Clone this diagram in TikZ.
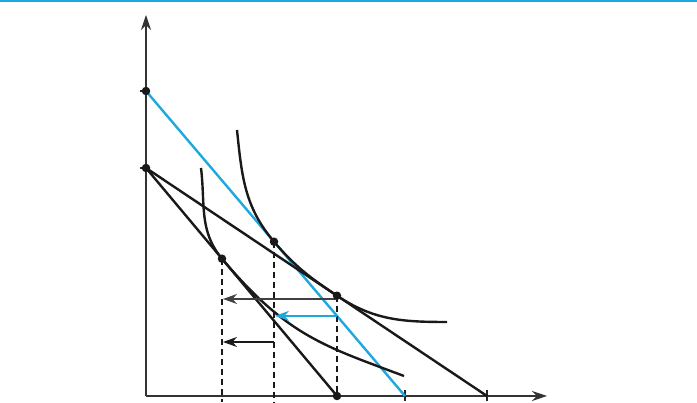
\documentclass[tikz,border=0pt]{standalone}
\usepackage{xcolor}
\usetikzlibrary{arrows.meta}

\definecolor{skyline}{RGB}{30,168,222}

\begin{document}
\begin{tikzpicture}[x=1pt,y=1pt,
    axis/.style={black!80, line width=1.4pt, -{Stealth[length=15pt,width=10pt]}},
    budget/.style={black!90, line width=2.4pt},
    indiff/.style={black!90, line width=2.4pt},
    guide/.style={black!90, line width=1.9pt, dash pattern=on 6pt off 4pt},
    effect/.style={line width=1.5pt, -{Stealth[length=14pt,width=10pt]}},
    tick/.style={black!85, line width=1.4pt},
    dot/.style={circle, fill=black!90, inner sep=0pt, minimum size=8.5pt}]
    \useasboundingbox (0,0) rectangle (697,403);
    \draw[skyline, line width=2pt] (0,402) -- (697,402);

    % axes
    \coordinate (O) at (146,7);
    \coordinate (ytop) at (146,388);
    \coordinate (xend) at (547,7);
    \draw[axis] (O) -- (ytop);
    \draw[axis] (O) -- (xend);

    % intercepts and optima
    \coordinate (A) at (146,312);
    \coordinate (B) at (146,235);
    \coordinate (Ab) at (405,7);
    \coordinate (Bf) at (487,7);
    \coordinate (Bs) at (337,7);
    \coordinate (P1) at (222,144.3);
    \coordinate (P2) at (274,161.3);
    \coordinate (P3) at (337,107.3);

    % ticks
    \foreach \y in {312,235} {
        \draw[tick] (140,\y) -- (146,\y);
    }
    \foreach \x in {405,487} {
        \draw[tick] (\x,1.5) -- (\x,12.5);
    }

    % budget lines
    \draw[skyline, line width=2.4pt] (A) -- (Ab);
    \draw[budget] (B) -- (Bf);
    \draw[budget] (B) -- (Bs);

    % indifference curves
    \draw[indiff] (237,273) to[out=-84, in=130.3] (P2)
        to[out=-49.7, in=146.2] (P3) to[out=-33.8, in=180] (447,81);
    \draw[indiff] (201,235) to[out=-83, in=130] (P1)
        to[out=-50, in=159.4, out looseness=1.2] (404,27);

    % dashed guides
    \draw[guide] (P1) -- (222,1);
    \draw[guide] (P2) -- (274,1);
    \draw[guide] (P3) -- (Bs);

    % effects
    \coordinate (t1s) at (337,104);
    \coordinate (t1e) at (223,104);
    \coordinate (s1s) at (337,87.1);
    \coordinate (s1e) at (275,87.1);
    \coordinate (i1s) at (274,61);
    \coordinate (i1e) at (223,61);
    \draw[effect, black!75] (t1s) -- (t1e);
    \draw[effect, skyline] (s1s) -- (s1e);
    \draw[effect, black!90] (i1s) -- (i1e);

    % dots
    \foreach \p in {A,B,P1,P2,P3,Bs} {
        \node[dot] (d\p) at (\p) {};
    }
\end{tikzpicture}
\end{document}
